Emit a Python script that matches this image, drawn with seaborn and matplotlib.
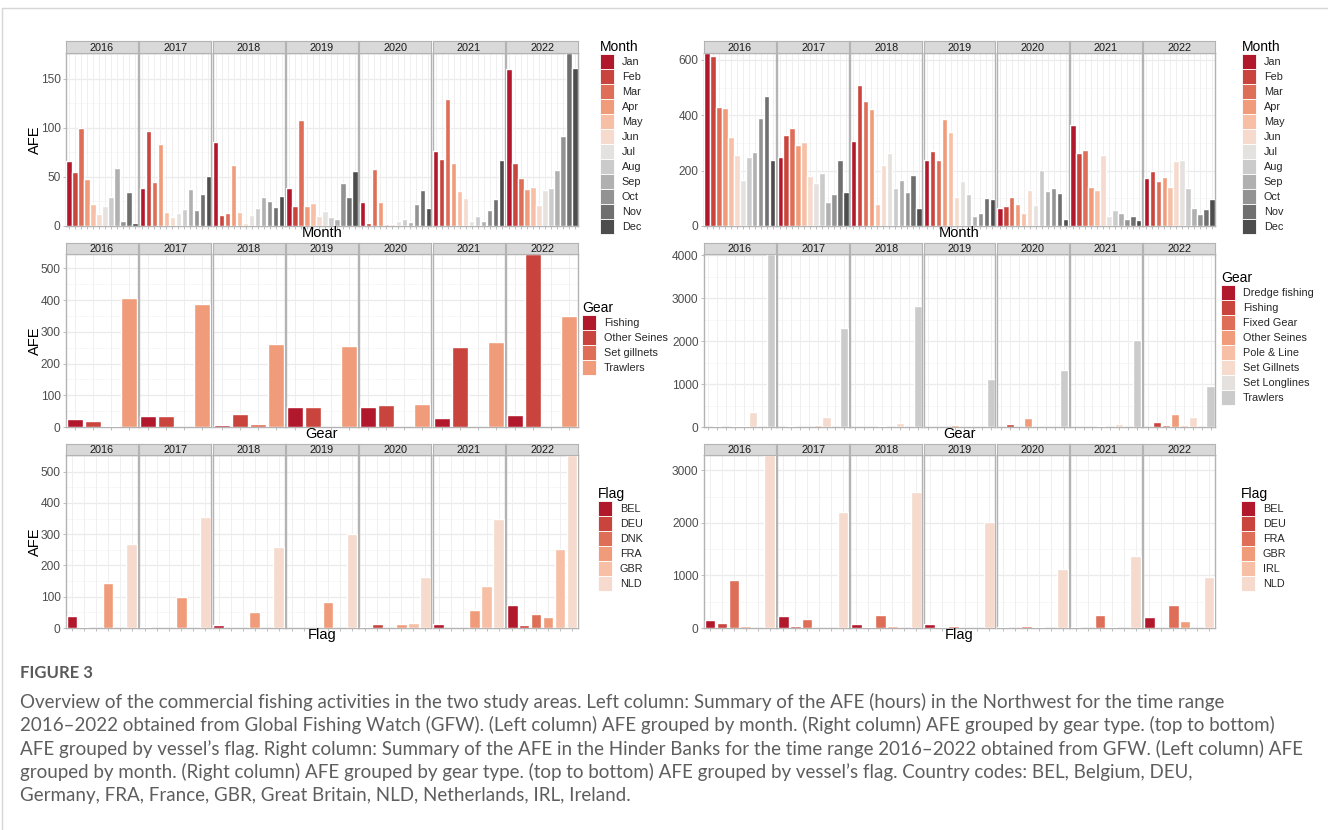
import numpy as np
import pandas as pd
import matplotlib
matplotlib.use("Agg")
import matplotlib.pyplot as plt
from matplotlib.patches import Patch
from matplotlib.lines import Line2D
import seaborn as sns

# --- data ---
years = ["2016", "2017", "2018", "2019", "2020", "2021", "2022"]

months = ["Jan", "Feb", "Mar", "Apr", "May", "Jun", "Jul", "Aug", "Sep", "Oct", "Nov", "Dec"]
nw_month_afe = [
    [66, 55, 100, 48, 22, 12, 20, 29, 59, 5, 35, 3],
    [39, 97, 45, 83, 14, 9, 13, 17, 38, 16, 33, 51],
    [85, 11, 13, 62, 14, 3, 11, 18, 29, 25, 19, 31],
    [39, 20, 108, 20, 23, 10, 15, 9, 7, 44, 29, 56],
    [24, 3, 58, 24, 2, 2, 5, 7, 4, 22, 37, 18],
    [76, 68, 129, 64, 36, 28, 5, 10, 5, 16, 27, 67],
    [160, 64, 49, 38, 40, 21, 37, 39, 57, 92, 176, 161],
]
hb_month_afe = [
    [625, 615, 431, 425, 321, 258, 167, 248, 269, 389, 471, 240],
    [250, 330, 355, 293, 305, 180, 155, 192, 88, 117, 238, 123],
    [306, 510, 452, 423, 81, 219, 264, 138, 167, 124, 186, 65],
    [240, 272, 240, 388, 338, 103, 161, 114, 37, 47, 101, 99],
    [64, 71, 103, 79, 48, 131, 75, 204, 125, 137, 120, 26],
    [365, 263, 273, 141, 129, 257, 36, 59, 48, 26, 35, 23],
    [174, 200, 161, 177, 141, 236, 237, 139, 66, 42, 61, 96],
]

nw_gears = ["Fishing", "Other Seines", "Set gillnets", "Trawlers"]
nw_gear_afe = [
    [26, 19, 3, 405],
    [35, 34, 0, 386],
    [6, 41, 10, 263],
    [64, 64, 0, 255],
    [62, 70, 0, 74],
    [29, 252, 0, 268],
    [39, 545, 0, 350],
]
hb_gears = ["Dredge fishing", "Fishing", "Fixed Gear", "Other Seines",
            "Pole & Line", "Set Gillnets", "Set Longlines", "Trawlers"]
hb_gear_afe = [
    [0, 30, 0, 25, 30, 360, 0, 4030],
    [0, 30, 0, 0, 40, 232, 0, 2300],
    [0, 0, 0, 25, 0, 85, 0, 2830],
    [0, 0, 0, 54, 0, 0, 0, 1110],
    [0, 78, 0, 217, 0, 0, 0, 1333],
    [0, 0, 0, 30, 0, 75, 0, 2023],
    [0, 124, 35, 310, 55, 240, 0, 961],
]

nw_flags = ["BEL", "DEU", "DNK", "FRA", "GBR", "NLD"]
nw_flag_afe = [
    [37, 3, 0, 145, 0, 269],
    [2, 0, 0, 99, 0, 354],
    [10, 0, 0, 51, 0, 260],
    [0, 0, 0, 82, 0, 299],
    [4, 13, 0, 13, 16, 162],
    [13, 0, 0, 56, 135, 348],
    [73, 8, 45, 34, 254, 553],
]
hb_flags = ["BEL", "DEU", "FRA", "GBR", "IRL", "NLD"]
hb_flag_afe = [
    [153, 96, 917, 30, 0, 3290],
    [236, 45, 166, 0, 0, 2197],
    [75, 20, 248, 40, 0, 2580],
    [70, 20, 30, 0, 0, 2025],
    [15, 0, 45, 15, 0, 1127],
    [25, 0, 255, 20, 0, 1363],
    [204, 0, 446, 127, 0, 962],
]

# 12-step red -> grey palette, groups take the first n colours
pal12 = ["#B2182B", "#C9443D", "#DE6E58", "#F09C7B", "#F7BFA5", "#F5DACD",
         "#E5E1DE", "#CBCBCB", "#B0B0B0", "#939393", "#6F6F6F", "#4D4D4D"]

caption_lines = [
    "Overview of the commercial fishing activities in the two study areas. Left column: Summary of the AFE (hours) in the Northwest for the time range",
    "2016\u20132022 obtained from Global Fishing Watch (GFW). (Left column) AFE grouped by month. (Right column) AFE grouped by gear type. (top to bottom)",
    "AFE grouped by vessel\u2019s flag. Right column: Summary of the AFE in the Hinder Banks for the time range 2016\u20132022 obtained from GFW. (Left column) AFE",
    "grouped by month. (Right column) AFE grouped by gear type. (top to bottom) AFE grouped by vessel\u2019s flag. Country codes: BEL, Belgium, DEU,",
    "Germany, FRA, France, GBR, Great Britain, NLD, Netherlands, IRL, Ireland.",
]

sns.set_theme(style="white")
plt.rcParams["font.family"] = ["Liberation Sans", "DejaVu Sans"]

W, H = 1328, 830
fig = plt.figure(figsize=(W / 100, H / 100), dpi=100)
fig.patch.set_facecolor("white")


def box(x0, y0, x1, y1):
    # pixel box (top-left origin) -> figure fraction rect
    return [x0 / W, 1 - y1 / H, (x1 - x0) / W, (y1 - y0) / H]


def facet_block(x0, x1, strip_top, panel_top, panel_bot, cats, table, ticks,
                xlabel, ylabel, leg_x, leg_y, leg_title):
    n = len(cats)
    pal = pal12[:n]
    gap = 1.5
    pw = (x1 - x0 - 6 * gap) / 7
    ymax = max(max(r) for r in table)
    step = ticks[1] - ticks[0]
    minor = [t + step / 2 for t in ticks if t + step / 2 < ymax]
    for i, yr in enumerate(years):
        px0 = x0 + i * (pw + gap)
        ax = fig.add_axes(box(px0, panel_top, px0 + pw, panel_bot))
        df = pd.DataFrame({"cat": cats, "afe": table[i]})
        sns.barplot(data=df, x="cat", y="afe", hue="cat", order=cats, hue_order=cats,
                    palette=pal, saturation=1, width=0.9, errorbar=None,
                    legend=False, ax=ax, zorder=3)
        ax.set_xlim(-0.5, n - 0.5)
        ax.set_ylim(0, ymax)
        ax.set_xlabel("")
        ax.set_ylabel("")
        for m in minor:
            ax.axhline(m, color="#F4F4F4", lw=0.5, zorder=1)
        for t in ticks:
            ax.axhline(t, color="#EBEBEB", lw=0.9, zorder=1)
        for k in range(n):
            ax.axvline(k, color="#EFEFEF", lw=0.7, zorder=1)
        ax.set_xticks(range(n))
        ax.set_xticklabels([])
        ax.tick_params(axis="x", length=2.5, width=0.6, color="#B3B3B3", bottom=True)
        ax.set_yticks(ticks)
        if i == 0:
            ax.set_yticklabels([str(t) for t in ticks], fontsize=8.6, color="#4D4D4D")
            ax.tick_params(axis="y", length=2.5, width=0.6, color="#B3B3B3", left=True, pad=1.5)
        else:
            ax.set_yticklabels([])
            ax.tick_params(axis="y", length=0)
        for s in ax.spines.values():
            s.set_color("#B3B3B3")
            s.set_linewidth(1.0)
        ax.set_facecolor("white")

        sax = fig.add_axes(box(px0, strip_top, px0 + pw, panel_top))
        sax.set_facecolor("#D9D9D9")
        sax.set_xticks([])
        sax.set_yticks([])
        for s in sax.spines.values():
            s.set_color("#B3B3B3")
            s.set_linewidth(0.8)
        sax.text(0.5, 0.45, yr, ha="center", va="center", fontsize=7.8,
                 color="#1A1A1A", transform=sax.transAxes)

    fig.text(((x0 + x1) / 2) / W, 1 - (panel_bot + 7) / H, xlabel,
             ha="center", va="center", fontsize=10.5, color="black")
    if ylabel:
        fig.text(35 / W, 1 - ((panel_top + panel_bot) / 2) / H, ylabel,
                 rotation=90, ha="center", va="center", fontsize=10.5, color="black")

    handles = [Patch(facecolor=c, edgecolor="white", linewidth=0.6) for c in pal]
    leg = fig.legend(handles, cats, title=leg_title, loc="upper left",
                     bbox_to_anchor=(leg_x / W, 1 - leg_y / H), frameon=False,
                     fontsize=7.8, title_fontsize=10, handlelength=1.3,
                     handleheight=1.75, labelspacing=0, handletextpad=0.7,
                     borderpad=0, borderaxespad=0, alignment="left")
    leg.get_title().set_color("black")


# left column: Northwest
facet_block(66, 578, 41, 53, 226, months, nw_month_afe, [0, 50, 100, 150],
            "Month", "AFE", 600, 40, "Month")
facet_block(66, 578, 243, 254, 427, nw_gears, nw_gear_afe, [0, 100, 200, 300, 400, 500],
            "Gear", "AFE", 582, 301, "Gear")
facet_block(66, 578, 444, 455, 628, nw_flags, nw_flag_afe, [0, 100, 200, 300, 400, 500],
            "Flag", "AFE", 598, 487, "Flag")

# right column: Hinder Banks
facet_block(704, 1215, 41, 53, 226, months, hb_month_afe, [0, 200, 400, 600],
            "Month", None, 1242, 40, "Month")
facet_block(704, 1215, 243, 254, 427, hb_gears, hb_gear_afe, [0, 1000, 2000, 3000, 4000],
            "Gear", None, 1221, 271, "Gear")
facet_block(704, 1215, 444, 455, 628, hb_flags, hb_flag_afe, [0, 1000, 2000, 3000],
            "Flag", None, 1241, 487, "Flag")

# thin page frame (left and top edge of the figure panel)
fig.add_artist(Line2D([1.5 / W, 1.5 / W], [0, 1 - 8 / H], color="#D6D6D6", lw=1))
fig.add_artist(Line2D([1.5 / W, 1], [1 - 8 / H, 1 - 8 / H], color="#D6D6D6", lw=1))

# caption
fig.text(20 / W, 1 - 673 / H, "FIGURE 3", ha="left", va="center", fontsize=12,
         fontweight="bold", color="#5A5A5A", family=["Lato", "DejaVu Sans"])
cap_y = [702, 725, 749, 772, 795]
texts = []
for yy, line in zip(cap_y, caption_lines):
    texts.append(fig.text(20 / W, 1 - yy / H, line, ha="left", va="center", fontsize=12,
                          color="#5E5E5E", family=["Lato", "DejaVu Sans"]))
# scale caption font so the longest lines span the same width as the reference
fig.canvas.draw()
rend = fig.canvas.get_renderer()
width = texts[2].get_window_extent(rend).width
fs = 12 * 1279 / width
for t in texts:
    t.set_fontsize(fs)

fig.savefig("out.png", dpi=100, facecolor="white")
